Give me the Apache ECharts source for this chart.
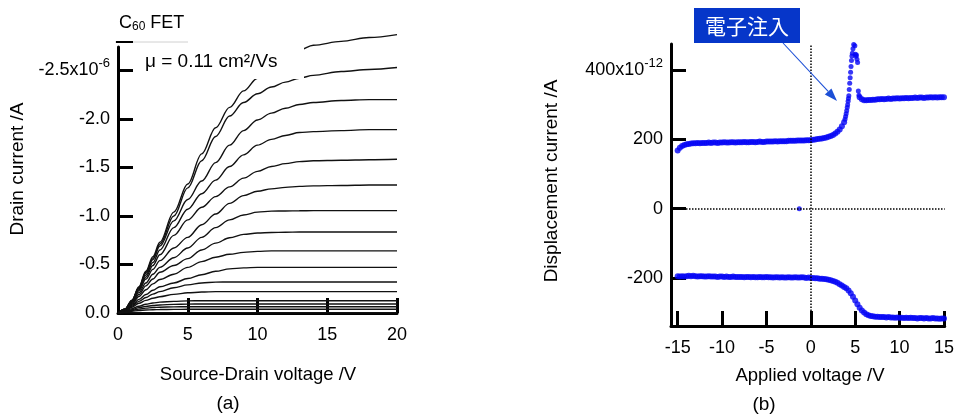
<!DOCTYPE html>
<html><head><meta charset="utf-8">
<script src="https://cdn.jsdelivr.net/npm/echarts@6/dist/echarts.min.js"></script>
<style>html,body{margin:0;padding:0;background:#fff}#c{width:957px;height:419px}</style>
</head><body><div id="c"></div>
<script>
// ---------- Panel (a): C60 FET output curves (drain current in units of 1e-6 A) ----------
const vd = [0,0.5,1,1.5,2,2.5,3,4,5,6,7,8,9,10,11,12,13,14,16,18,20];
const id01 = [0,-0.04,-0.13,-0.27,-0.43,-0.58,-0.73,-1.04,-1.33,-1.64,-1.91,-2.12,-2.29,-2.42,-2.54,-2.63,-2.71,-2.76,-2.80,-2.84,-2.87];
const id02 = [0,-0.04,-0.13,-0.26,-0.42,-0.56,-0.71,-1.00,-1.29,-1.57,-1.82,-2.03,-2.17,-2.26,-2.33,-2.38,-2.42,-2.45,-2.49,-2.51,-2.53];
const id03 = [0,-0.04,-0.13,-0.26,-0.41,-0.55,-0.69,-0.95,-1.17,-1.36,-1.55,-1.73,-1.88,-1.99,-2.06,-2.11,-2.15,-2.17,-2.19,-2.20,-2.20];
const id04 = [0,-0.04,-0.13,-0.25,-0.39,-0.52,-0.65,-0.88,-1.07,-1.23,-1.37,-1.51,-1.63,-1.73,-1.79,-1.83,-1.86,-1.87,-1.88,-1.89,-1.89];
const id05 = [0,-0.04,-0.12,-0.24,-0.37,-0.49,-0.60,-0.80,-0.96,-1.09,-1.20,-1.30,-1.39,-1.46,-1.51,-1.54,-1.56,-1.57,-1.575,-1.58,-1.585];
const id06 = [0,-0.035,-0.12,-0.23,-0.35,-0.45,-0.54,-0.67,-0.78,-0.91,-1.02,-1.13,-1.21,-1.255,-1.28,-1.295,-1.305,-1.31,-1.315,-1.32,-1.32];
const id07 = [0,-0.035,-0.11,-0.21,-0.31,-0.40,-0.47,-0.57,-0.67,-0.78,-0.88,-0.96,-1.01,-1.04,-1.05,-1.052,-1.054,-1.055,-1.055,-1.055,-1.055];
const id08 = [0,-0.03,-0.10,-0.19,-0.28,-0.35,-0.42,-0.49,-0.56,-0.65,-0.72,-0.775,-0.81,-0.825,-0.83,-0.833,-0.835,-0.835,-0.835,-0.835,-0.835];
const id09 = [0,-0.03,-0.09,-0.17,-0.24,-0.30,-0.345,-0.40,-0.47,-0.53,-0.575,-0.605,-0.625,-0.635,-0.64,-0.64,-0.64,-0.64,-0.64,-0.64,-0.64];
const id10 = [0,-0.03,-0.08,-0.14,-0.19,-0.235,-0.27,-0.31,-0.355,-0.395,-0.43,-0.455,-0.465,-0.47,-0.47,-0.47,-0.47,-0.47,-0.47,-0.47,-0.47];
const id11 = [0,-0.025,-0.07,-0.12,-0.16,-0.195,-0.22,-0.26,-0.29,-0.31,-0.318,-0.32,-0.32,-0.32,-0.32,-0.32,-0.32,-0.32,-0.32,-0.32,-0.32];
const id12 = [0,-0.02,-0.06,-0.10,-0.13,-0.152,-0.168,-0.192,-0.208,-0.216,-0.22,-0.22,-0.22,-0.22,-0.22,-0.22,-0.22,-0.22,-0.22,-0.22,-0.22];
const id13 = [0,-0.015,-0.045,-0.07,-0.09,-0.103,-0.112,-0.12,-0.125,-0.127,-0.127,-0.127,-0.127,-0.127,-0.127,-0.127,-0.127,-0.127,-0.127,-0.127,-0.127];
const id14 = [0,-0.012,-0.035,-0.055,-0.068,-0.077,-0.083,-0.089,-0.092,-0.093,-0.093,-0.093,-0.093,-0.093,-0.093,-0.093,-0.093,-0.093,-0.093,-0.093,-0.093];
const id15 = [0,-0.01,-0.027,-0.04,-0.05,-0.056,-0.06,-0.063,-0.065,-0.065,-0.065,-0.065,-0.065,-0.065,-0.065,-0.065,-0.065,-0.065,-0.065,-0.065,-0.065];
const id16 = [0,-0.008,-0.018,-0.026,-0.031,-0.034,-0.036,-0.037,-0.038,-0.038,-0.038,-0.038,-0.038,-0.038,-0.038,-0.038,-0.038,-0.038,-0.038,-0.038,-0.038];
const id17 = [0,-0.001,-0.002,-0.003,-0.003,-0.003,-0.003,-0.003,-0.003,-0.003,-0.003,-0.003,-0.003,-0.003,-0.003,-0.003,-0.003,-0.003,-0.003,-0.003,-0.003];
const fetCurves = [id01,id02,id03,id04,id05,id06,id07,id08,id09,id10,id11,id12,id13,id14,id15,id16,id17];
const aTicksX = [0,5,10,15,20];
const aTicksY = [0,-0.5,-1,-1.5,-2,-2.5];
const aLabelsY = ['0.0','-0.5','-1.0','-1.5','-2.0','-2.5x10{sup|-6}'];

// ---------- Panel (b): displacement current (units of 1e-12 A) ----------
const sweepV = [-15,-14.75,-14.5,-14.25,-14,-13.75,-13.5,-13.25,-13,-12.75,-12.5,-12.25,-12,-11.75,-11.5,-11.25,-11,-10.75,-10.5,-10.25,
-10,-9.75,-9.5,-9.25,-9,-8.75,-8.5,-8.25,-8,-7.75,-7.5,-7.25,-7,-6.75,-6.5,-6.25,-6,-5.75,-5.5,-5.25,
-5,-4.75,-4.5,-4.25,-4,-3.75,-3.5,-3.25,-3,-2.75,-2.5,-2.25,-2,-1.75,-1.5,-1.25,-1,-0.75,-0.5,-0.25,
0,0.25,0.5,0.75,1,1.25,1.5,1.75,2,2.25,2.5,2.75,3,3.25,3.5,3.75,4,4.25,4.5,4.75,
5,5.25,5.5,5.75,6,6.25,6.5,6.75,7,7.25,7.5,7.75,8,8.25,8.5,8.75,9,9.25,9.5,9.75,
10,10.25,10.5,10.75,11,11.25,11.5,11.75,12,12.25,12.5,12.75,13,13.25,13.5,13.75,14,14.25,14.5,14.75,15];
// upper branch, -15 .. 3.75 V
const upLeftI = [168,176,181,184,186,187,188,189,189,190,189,190,190,190,191,190,191,191,190,191,
191,192,191,191,192,192,191,192,192,192,193,192,192,193,193,192,193,194,193,193,
194,194,194,194,195,194,195,195,195,195,196,196,196,196,197,197,197,197,198,198,
198,199,200,201,202,203,204,206,208,210,213,217,222,229,238,250];
// injection spike region
const spikeV = [3.85,3.92,3.98,4.04,4.1,4.15,4.2,4.24,4.28,4.33,4.38,4.43,4.48,4.53,4.58,4.63,4.68,4.75,4.83,4.9,4.96,5.02,5.08,5.14,5.2,5.27,5.35,5.42];
const spikeI = [258,266,274,283,292,300,310,318,326,344,362,378,394,411,428,441,449,462,474,477,471,446,440,444,432,422,340,328];
// upper branch, 5.5 .. 15 V
const upRightI = [322,316,313,313,314,314,315,315,316,316,317,316,317,318,317,318,318,319,318,319,
319,320,319,320,320,321,320,321,321,320,321,321,322,321,322,321,322,322,322];
// lower branch, -15 .. 15 V
const lowI = [-195,-196,-195,-196,-195,-194,-195,-194,-195,-196,-195,-195,-196,-196,-195,-196,-196,-196,-197,-196,
-196,-197,-196,-197,-197,-196,-197,-197,-197,-197,-198,-197,-197,-198,-197,-198,-198,-197,-198,-198,
-197,-198,-198,-199,-198,-198,-199,-198,-199,-199,-198,-199,-199,-198,-199,-199,-198,-199,-200,-199,
-200,-200,-201,-201,-202,-202,-203,-204,-205,-207,-209,-211,-214,-218,-222,-226,-230,-236,-244,-254,
-265,-276,-286,-294,-300,-305,-308,-310,-311,-312,-312,-313,-313,-313,-314,-313,-314,-314,-315,-314,
-315,-315,-316,-315,-316,-315,-316,-316,-317,-316,-316,-317,-316,-317,-317,-316,-317,-317,-318,-317,-317];
const strayV = [-1.3];
const strayI = [0];
const bTicksX = [-15,-10,-5,0,5,10,15];
const bTicksY = [-200,0,200,400];
const bLabelsY = ['-200','0','200','400x10{sup|-12}'];

const FONT = 'Liberation Sans, Arial, Helvetica, sans-serif';
const BLUE = '#0505f5';
const pair = (xs, ys) => xs.map((x, i) => [x, ys[i]]);
const lookup = (ticks, labels) => v => { const k = ticks.findIndex(t => Math.abs(t - v) < 1e-9); return k < 0 ? '' : labels[k]; };
const supRich = { sup: { fontSize: 13, fontFamily: FONT, color: '#000', padding: [0, 0, 14, 0] } };

const axisCommon = (ticks) => ({
  axisLine: { show: true, onZero: false, lineStyle: { color: '#000', width: 3 } },
  axisTick: { show: true, inside: true, length: 15, customValues: ticks, lineStyle: { color: '#000', width: 3 } },
  splitLine: { show: false }
});

const series = fetCurves.map(c => ({
  type: 'line', xAxisIndex: 0, yAxisIndex: 0, data: pair(vd, c), showSymbol: false,
  smooth: 0.35, smoothMonotone: 'x', clip: false, silent: true,
  lineStyle: { color: '#111', width: 1.4 }
}));
const scatterStyle = { type: 'scatter', xAxisIndex: 1, yAxisIndex: 1, symbol: 'circle', symbolSize: 6, silent: true, itemStyle: { color: BLUE } };
series.push(Object.assign({}, scatterStyle, {
  data: pair(sweepV, lowI),
  markLine: { silent: true, symbol: 'none', label: { show: false },
    lineStyle: { color: '#000', width: 1.5, type: [1.5, 1.5] },
    data: [{ xAxis: 0 }, { yAxis: 0 }] }
}));
series.push(Object.assign({}, scatterStyle, { data: pair(sweepV.slice(0, upLeftI.length), upLeftI) }));
series.push(Object.assign({}, scatterStyle, { symbolSize: 5, data: pair(spikeV, spikeI) }));
series.push(Object.assign({}, scatterStyle, { data: pair(sweepV.slice(sweepV.length - upRightI.length), upRightI) }));
series.push(Object.assign({}, scatterStyle, { symbolSize: 5, data: pair(strayV, strayI) }));

const txt = (x, y, text, size, extra) => Object.assign({
  type: 'text', x, y, z: 100,
  style: Object.assign({ text, font: size + 'px ' + FONT, fill: '#000', align: 'center', verticalAlign: 'middle' }, extra || {})
});

// arrow geometry for the annotation
const tip = [837, 101], tail = [783, 43];
const dx = tip[0] - tail[0], dy = tip[1] - tail[1], L = Math.hypot(dx, dy), ux = dx / L, uy = dy / L;
const hb = [tip[0] - 13 * ux, tip[1] - 13 * uy];
const head = [tip, [hb[0] + 4.5 * uy, hb[1] - 4.5 * ux], [hb[0] - 4.5 * uy, hb[1] + 4.5 * ux]];

const option = {
  animation: false,
  backgroundColor: '#fff',
  grid: [
    { left: 118, top: 47, width: 279, height: 266 },
    { left: 671, top: 44, width: 274, height: 282 }
  ],
  xAxis: [
    Object.assign({ gridIndex: 0, type: 'value', min: 0, max: 20,
      axisLabel: { customValues: aTicksX, margin: 13, fontSize: 18, fontFamily: FONT, color: '#000' } }, axisCommon(aTicksX)),
    Object.assign({ gridIndex: 1, type: 'value', min: -15.75, max: 15.08,
      axisLabel: { customValues: bTicksX, margin: 13, fontSize: 18, fontFamily: FONT, color: '#000' } }, axisCommon(bTicksX))
  ],
  yAxis: [
    Object.assign({ gridIndex: 0, type: 'value', min: -2.742, max: 0, inverse: true,
      axisLabel: { customValues: aTicksY, margin: 8, fontSize: 18, fontFamily: FONT, color: '#000',
        formatter: lookup(aTicksY, aLabelsY), rich: supRich } }, axisCommon(aTicksY)),
    Object.assign({ gridIndex: 1, type: 'value', min: -338.8, max: 475.7,
      axisLabel: { customValues: bTicksY, margin: 8, fontSize: 18, fontFamily: FONT, color: '#000',
        formatter: lookup(bTicksY, bLabelsY), rich: supRich } }, axisCommon(bTicksY))
  ],
  series,
  graphic: [
    // panel (a) annotations
    { type: 'line', z: 100, shape: { x1: 115, y1: 42, x2: 188, y2: 42 }, style: { stroke: '#d0d0d0', lineWidth: 1 } },
    { type: 'line', z: 101, shape: { x1: 116, y1: 42, x2: 133, y2: 42 }, style: { stroke: '#000', lineWidth: 2 } },
    { type: 'text', x: 119, y: 23, z: 100, style: { text: 'C{sub|60} FET', font: '18px ' + FONT, fill: '#000', align: 'left', verticalAlign: 'middle',
        rich: { sub: { fontSize: 12, fontFamily: FONT, fill: '#000', padding: [8, 0, 0, 0] } } } },
    { type: 'rect', z: 100, shape: { x: 138, y: 45, width: 166, height: 34 }, style: { fill: '#fff' } },
    txt(145, 62, 'μ = 0.11 cm²/Vs', 19, { align: 'left' }),
    { type: 'text', x: 18, y: 169, z: 100, rotation: Math.PI / 2,
      style: { text: 'Drain current /A', font: '19px ' + FONT, fill: '#000', align: 'center', verticalAlign: 'middle' } },
    txt(258, 375, 'Source-Drain voltage /V', 18.5),
    txt(228, 404, '(a)', 19),
    // panel (b)
    { type: 'text', x: 552, y: 181, z: 100, rotation: Math.PI / 2,
      style: { text: 'Displacement current /A', font: '19px ' + FONT, fill: '#000', align: 'center', verticalAlign: 'middle' } },
    txt(810, 376, 'Applied voltage /V', 18.5),
    txt(764, 405, '(b)', 19),
    { type: 'rect', z: 100, shape: { x: 694, y: 8, width: 106, height: 35 }, style: { fill: '#0636c9' } },
    { type: 'text', x: 747, y: 26, z: 101, style: { text: '電子注入', font: '21px "Noto Sans CJK JP", sans-serif', fill: '#fff', align: 'center', verticalAlign: 'middle' } },
    { type: 'line', z: 100, shape: { x1: tail[0], y1: tail[1], x2: hb[0], y2: hb[1] }, style: { stroke: '#1c4fd6', lineWidth: 1.1 } },
    { type: 'polygon', z: 100, shape: { points: head }, style: { fill: '#1c4fd6' } }
  ]
};
echarts.init(document.getElementById('c'), null, { renderer: 'canvas' }).setOption(option);
</script>
</body></html>
